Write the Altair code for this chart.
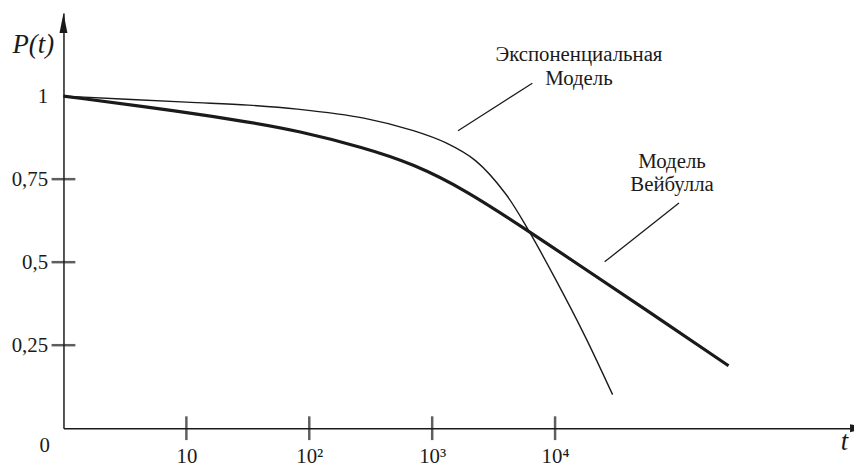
import altair as alt
import pandas as pd

# ---- data ----
exp_t = [1, 10, 32, 80, 278, 703, 1297, 2263, 3954, 6053, 10000, 17458, 29376]
exp_p = [1.0, 0.982, 0.973, 0.961, 0.934, 0.896, 0.859, 0.805, 0.706, 0.597, 0.451, 0.278, 0.101]

weib_t = [1, 10, 32, 80, 278, 703, 1879, 6053, 14490, 53200, 257800]
weib_p = [1.0, 0.952, 0.922, 0.896, 0.845, 0.796, 0.717, 0.594, 0.500, 0.360, 0.188]

x_tick_values = [10, 100, 1000, 10000]
x_tick_labels = ["10", "10²", "10³", "10⁴"]
y_tick_values = [0.25, 0.5, 0.75, 1]
y_tick_labels = ["0,25", "0,5", "0,75", "1"]
y_tick_marks = [0.25, 0.5, 0.75]

note_t = [15630, 15630, 89500, 89500]
note_p = [1.125, 1.051, 0.800, 0.731]
note_text = ["Экспоненциальная", "Модель", "Модель", "Вейбулла"]

ptr_t1 = [1622, 25300]
ptr_p1 = [0.896, 0.501]
ptr_t2 = [6530, 101900]
ptr_p2 = [1.039, 0.678]

T_MIN, T_MAX = 1, 10 ** 6.4
P_MIN, P_MAX = 0, 1.25

FONT = "Liberation Serif"
INK = "#1a1a1a"

xs = alt.Scale(type="log", domain=[T_MIN, T_MAX], nice=False)
ys = alt.Scale(domain=[P_MIN, P_MAX], nice=False, zero=False)


def map_expr(vals, labels):
    parts = [f"datum.value == {v} ? '{l}'" for v, l in zip(vals, labels)]
    return " : ".join(parts) + " : ''"


x_axis = alt.Axis(
    values=x_tick_values, labelExpr=map_expr(x_tick_values, x_tick_labels),
    ticks=False, grid=False, domainColor=INK, domainWidth=1.5,
    labelFont=FONT, labelFontSize=21, labelColor=INK, labelPadding=18,
    labelFlush=False, labelOverlap=False, labelBaseline="top",
    title="t", titleFont=FONT, titleFontStyle="italic", titleFontWeight="normal",
    titleFontSize=27, titleColor=INK, titleX=788, titleY=14,
    titleAlign="center", titleBaseline="middle",
)
y_axis = alt.Axis(
    values=y_tick_values, labelExpr=map_expr(y_tick_values, y_tick_labels),
    ticks=False, grid=False, domainColor=INK, domainWidth=1.5,
    labelFont=FONT, labelFontSize=21, labelColor=INK, labelPadding=16,
    labelFlush=False, labelOverlap=False,
    title="P(t)", titleFont=FONT, titleFontStyle="italic", titleFontWeight="normal",
    titleFontSize=27, titleColor=INK, titleAngle=0, titleX=-31, titleY=32,
    titleAlign="center", titleBaseline="middle",
)


def X(field):
    return alt.X(field, type="quantitative", scale=xs, axis=x_axis)


def Y(field):
    return alt.Y(field, type="quantitative", scale=ys, axis=y_axis)


exp_df = pd.DataFrame({"t": exp_t, "p": exp_p})
weib_df = pd.DataFrame({"t": weib_t, "p": weib_p})

thin = alt.Chart(exp_df).mark_line(
    color=INK, strokeWidth=1.4, interpolate="catmull-rom"
).encode(x=X("t"), y=Y("p"), order="t:Q")

thick = alt.Chart(weib_df).mark_line(
    color=INK, strokeWidth=3.2, interpolate="basis"
).encode(x=X("t"), y=Y("p"), order="t:Q")

xt = pd.DataFrame({"t": x_tick_values, "p": [0] * len(x_tick_values)})
x_ticks = alt.Chart(xt).mark_tick(orient="vertical", size=24, thickness=2.5, color=INK).encode(
    x=X("t"), y=Y("p")
)

yt = pd.DataFrame({"t": [T_MIN] * len(y_tick_marks), "p": y_tick_marks})
y_ticks = alt.Chart(yt).mark_tick(orient="horizontal", size=24, thickness=2.5, color=INK).encode(
    x=X("t"), y=Y("p")
)

origin = alt.Chart(pd.DataFrame({"t": [T_MIN], "p": [P_MIN], "s": ["0"]})).mark_text(
    font=FONT, fontSize=21, color=INK, dx=-19, dy=18, align="center", baseline="middle"
).encode(x=X("t"), y=Y("p"), text="s:N")

arrow_up = alt.Chart(pd.DataFrame({"t": [T_MIN], "p": [P_MAX]})).mark_point(
    shape="M0,0L0.4,2L-0.4,2Z", size=400, filled=True, color=INK, opacity=1, strokeWidth=0
).encode(x=X("t"), y=Y("p"))

arrow_right = alt.Chart(pd.DataFrame({"t": [T_MAX], "p": [P_MIN]})).mark_point(
    shape="M0,-0.4L2,0L0,0.4Z", size=400, filled=True, color=INK, opacity=1, strokeWidth=0
).encode(x=X("t"), y=Y("p"))

notes = alt.Chart(pd.DataFrame({"t": note_t, "p": note_p, "s": note_text})).mark_text(
    font=FONT, fontSize=21, color=INK, align="center", baseline="middle"
).encode(x=X("t"), y=Y("p"), text="s:N")

pointers = alt.Chart(pd.DataFrame({"t1": ptr_t1, "p1": ptr_p1, "t2": ptr_t2, "p2": ptr_p2})).mark_rule(
    color=INK, strokeWidth=1.3
).encode(x=X("t1"), y=Y("p1"), x2="t2:Q", y2="p2:Q")

chart = alt.layer(
    thin, thick, x_ticks, y_ticks, origin, arrow_up, arrow_right, notes, pointers
).properties(
    width=794, height=419,
    autosize=alt.AutoSizeParams(type="none"),
    padding={"left": 56, "top": 3, "right": 4, "bottom": 38},
    background="white",
).configure_view(stroke=None)

chart.save("out.html", embed_options={"renderer": "svg", "actions": False})
